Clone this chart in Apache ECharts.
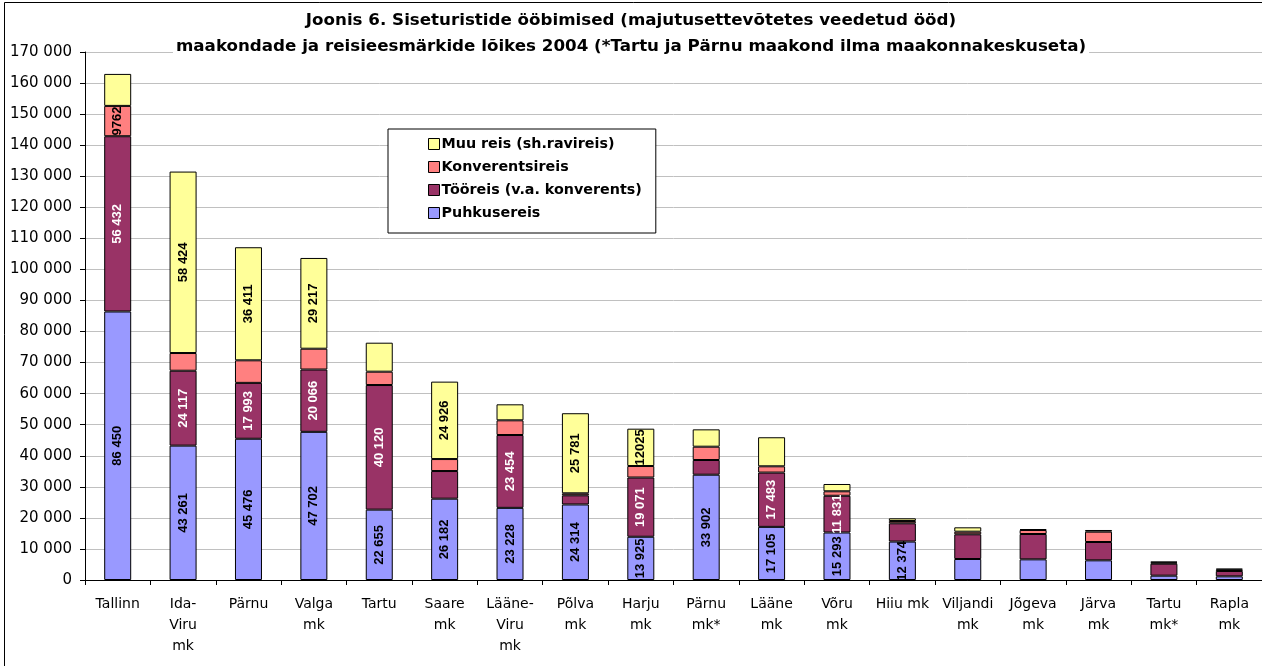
<!DOCTYPE html>
<html>
<head>
<meta charset="utf-8">
<script src="https://cdn.jsdelivr.net/npm/echarts@6/dist/echarts.min.js"></script>
<style>
html,body{margin:0;padding:0;background:#fff;}
#c{width:1262px;height:666px;}
</style>
</head>
<body>
<div id="c"></div>
<script>
var categories = ['Tallinn','Ida-\nViru\nmk','Pärnu','Valga\nmk','Tartu','Saare\nmk','Lääne-\nViru\nmk','Põlva\nmk','Harju\nmk','Pärnu\nmk*','Lääne\nmk','Võru\nmk','Hiiu mk','Viljandi\nmk','Jõgeva\nmk','Järva\nmk','Tartu\nmk*','Rapla\nmk'];
var seriesNames = ['Puhkusereis','Tööreis (v.a. konverents)','Konverentsireis','Muu reis (sh.ravireis)'];
var puhkus = [86450, 43261, 45476, 47702, 22655, 26182, 23228, 24314, 13925, 33902, 17105, 15293, 12374, 6760, 6650, 6330, 1390, 1180];
var tooreis = [56432, 24117, 17993, 20066, 40120, 8900, 23454, 2950, 19071, 4730, 17483, 11831, 5880, 7950, 8160, 5900, 3860, 1720];
var konverents = [9762, 5700, 7260, 6700, 4300, 3860, 4730, 650, 3700, 4290, 2020, 1440, 750, 850, 1290, 3330, 400, 450];
var muu = [10300, 58424, 36411, 29217, 9330, 24926, 5150, 25781, 12025, 5580, 9350, 2350, 860, 1400, 300, 540, 250, 300];
var puhkusLabels = ['86 450','43 261','45 476','47 702','22 655','26 182','23 228','24 314','13 925','33 902','17 105','15 293','12 374','','','','',''];
var tooreisLabels = ['56 432','24 117','17 993','20 066','40 120','','23 454','','19 071','','17 483','11 831','','','','','',''];
var konverentsLabels = ['9762','','','','','','','','','','','','','','','','',''];
var muuLabels = ['','58 424','36 411','29 217','','24 926','','25 781','12025','','','','','','','','',''];
var titleLines = ['Joonis 6. Siseturistide ööbimised (majutusettevõtetes veedetud ööd)','maakondade ja reisieesmärkide lõikes 2004 (*Tartu ja Pärnu maakond ilma maakonnakeskuseta)'];

var FONT = '"Liberation Sans", Arial, sans-serif';
var WIDE = '"DejaVu Sans", Verdana, sans-serif';
function mk(name, values, labels, color, labelColor) {
  return {
    name: name,
    type: 'bar',
    stack: 'total',
    barWidth: 27,
    itemStyle: { color: color, borderColor: '#000', borderWidth: 1 },
    label: {
      show: true,
      position: 'inside',
      rotate: 90,
      color: labelColor,
      fontFamily: FONT,
      fontWeight: 'bold',
      fontSize: 13,
      formatter: function (p) { return labels[p.dataIndex]; }
    },
    labelLayout: { hideOverlap: false },
    data: values
  };
}
var chart = echarts.init(document.getElementById('c'), null, { renderer: 'canvas' });
chart.setOption({
  animation: false,
  backgroundColor: '#fff',
  textStyle: { fontFamily: FONT },
  title: {
    text: titleLines.join('\n'),
    left: 'center',
    top: 7,
    padding: [1, 3, 0, 3],
    backgroundColor: '#fff',
    textStyle: { fontFamily: WIDE, fontWeight: 'bold', fontSize: 16.7, lineHeight: 26, color: '#000' },
    z: 10
  },
  graphic: [{
    type: 'rect',
    shape: { x: 4.5, y: 2.5, width: 1300, height: 700 },
    style: { fill: 'none', stroke: '#000', lineWidth: 1 },
    z: 100
  }],
  legend: {
    orient: 'vertical',
    left: 388,
    top: 129,
    data: [seriesNames[3], seriesNames[2], seriesNames[1], seriesNames[0]],
    backgroundColor: '#fff',
    borderColor: '#000',
    borderWidth: 1,
    padding: [8, 14, 13, 40],
    itemGap: 9,
    itemWidth: 11,
    itemHeight: 11,
    itemStyle: { borderColor: '#000', borderWidth: 1 },
    icon: 'rect',
    textStyle: { fontFamily: WIDE, fontWeight: 'bold', fontSize: 14.3, color: '#000', padding: [0, 0, 0, -3] },
    z: 20
  },
  grid: { left: 85, right: -2, top: 52, bottom: 86, containLabel: false },
  xAxis: {
    type: 'category',
    data: categories,
    axisLine: { lineStyle: { color: '#000', width: 1 } },
    axisTick: { show: true, length: 5, lineStyle: { color: '#000' } },
    axisLabel: { color: '#000', fontSize: 14, lineHeight: 21, margin: 14, interval: 0, fontFamily: WIDE }
  },
  yAxis: {
    type: 'value',
    min: 0,
    max: 170000,
    interval: 10000,
    axisLine: { show: true, lineStyle: { color: '#000', width: 1 } },
    axisTick: { show: true, length: 5, lineStyle: { color: '#000' } },
    splitLine: { lineStyle: { color: '#c0c0c0', width: 1 } },
    axisLabel: {
      color: '#000', fontSize: 15, margin: 13, fontFamily: WIDE,
      formatter: function (v) { return String(v).replace(/\B(?=(\d{3})+(?!\d))/g, ' '); }
    }
  },
  series: [
    mk(seriesNames[0], puhkus, puhkusLabels, '#9999FF', '#000'),
    mk(seriesNames[1], tooreis, tooreisLabels, '#993366', '#fff'),
    mk(seriesNames[2], konverents, konverentsLabels, '#FF8080', '#000'),
    mk(seriesNames[3], muu, muuLabels, '#FFFF99', '#000')
  ]
});
</script>
</body>
</html>
